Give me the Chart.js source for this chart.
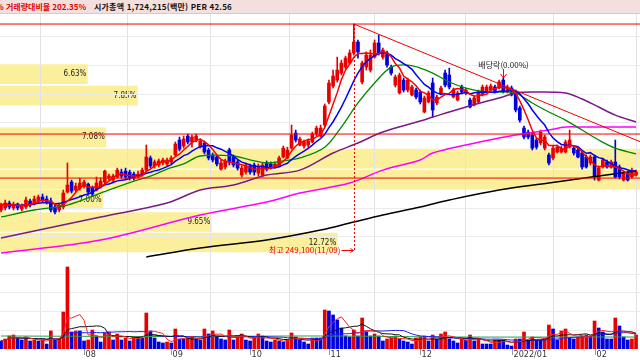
<!DOCTYPE html>
<html lang="ko">
<head>
<meta charset="utf-8">
<title>일봉 차트</title>
<script src="https://cdn.jsdelivr.net/npm/chart.js@4.4.1/dist/chart.umd.min.js"></script>
<style>
    body { margin: 0; background: #fff; }
    #wrap { position: relative; width: 640px; height: 360px; overflow: hidden; font-family: "Noto Sans CJK KR", sans-serif; }
    #hdr { position: absolute; left: 0; top: 0; width: 640px; height: 13px; background: #f4dfdf; border-bottom: 1px solid #dcc8c8; font-size: 8px; font-weight: bold; line-height: 13px; white-space: nowrap; }
    #hdr span { position: absolute; top: 0; }
    canvas { position: absolute; left: 0; }
</style>
</head>
<body>
<div id="wrap">
    <div id="hdr"><span style="left:-4px;color:#e00000">% 거래량대비율 202.35%</span><span style="left:94px;color:#111;letter-spacing:0.2px">시가총액 1,724,215(백만) PER 42.56</span></div>
    <canvas id="prof" width="640" height="246" style="top:14px"></canvas>
    <canvas id="price" width="640" height="246" style="top:14px"></canvas>
    <canvas id="vol" width="640" height="100" style="top:260px"></canvas>
</div>
<script>
// 일봉 (원)
var openP = [118600,120000,123500,120000,122800,119300,120700,124900,122800,124900,
    127700,126300,124900,120700,118600,120700,131200,138200,132600,133900,
    135400,136800,133900,132600,135400,138200,141000,139600,141700,145200,
    145900,145200,143800,141700,143100,146600,155100,149500,150200,151600,
    150900,152300,157200,167700,163500,170500,166300,167700,162700,165600,
    160700,157200,155800,147300,148800,160700,155800,152300,143100,145200,
    149500,150200,144500,143100,151600,150900,148800,149500,155800,155100,
    162000,172600,164200,163500,164200,166300,171900,170500,178200,194400,
    205600,209800,214700,218900,221700,228800,236500,208400,218900,216800,
    225900,235800,225900,228800,218900,206300,200700,209800,202800,199300,
    202800,201400,187400,194400,207700,193700,200700,214700,213300,197900,
    195800,204900,200700,195800,192300,194400,199300,201400,202800,204900,
    204200,209800,201400,204200,201400,190200,176100,173300,171200,167700,
    165600,162000,157200,155100,159300,159300,159300,162700,162000,160700,
    158600,155800,151600,155800,139600,148800,152300,148800,152300,148800,
    139600,144500,141700,143100];
var highP = [123500,125600,124900,124200,123500,122800,127700,126300,128400,129100,
    129800,128400,127000,122800,123500,132600,151600,139600,137500,141000,
    139600,137500,135400,141700,141000,146600,143800,143800,148000,147300,
    148000,146600,145200,145900,148000,164200,156500,153700,154400,155100,
    155100,156500,166300,169800,170500,171900,171200,171900,168400,167000,
    162000,158600,157200,153700,154400,162000,157200,153700,149500,151600,
    150900,151600,150900,151600,153000,152300,152300,156500,163500,162700,
    178200,174700,169800,167700,168400,173300,177500,178200,193000,209800,
    216800,225900,223800,226600,230900,249100,237900,223100,229500,230900,
    237900,241400,232300,230200,220300,213300,214700,211200,211200,206300,
    204200,202800,198600,202100,211200,199300,205600,216800,218200,204200,
    202100,206300,204200,197200,198600,202800,206300,206300,207000,206300,
    209800,211200,206300,205600,202800,191600,177500,174700,172600,169100,
    174700,171200,158600,163500,164200,163500,167700,174700,163500,162000,
    160000,157200,157200,157200,149500,155100,153700,153700,167700,150200,
    145900,145900,148000,146600];
var lowP = [117200,118600,119300,118600,118600,117900,119300,120700,122100,123500,
    124200,122800,117200,115800,117200,119300,130500,130500,131200,132600,
    133900,129800,128400,131900,133900,136800,139600,138200,141000,141000,
    140300,139600,139600,141000,142400,145900,148000,148000,148800,150200,
    149500,150900,156500,160000,162000,164900,162700,166300,162000,157900,
    153700,152300,149500,146600,147300,150200,148800,146600,141700,143800,
    143800,143100,142400,141700,145900,147300,148000,148800,155100,154400,
    161300,166300,163500,162000,162700,165600,170500,169800,176800,193000,
    204200,208400,213300,217500,221000,227300,225200,207000,216800,215400,
    225200,227300,224500,218900,213300,204900,200000,201400,201400,198600,
    196500,193000,186700,193700,183800,192300,199300,204900,203500,197200,
    195100,200000,199300,190200,191600,193700,198600,200700,202100,200700,
    203500,200700,200700,198600,187400,180300,168400,168400,160700,161300,
    164200,160700,150200,153700,158600,158600,158600,162000,157200,155100,
    147300,148000,150200,139600,138900,148000,148000,148000,141000,140300,
    138900,138900,141000,142400];
var closeP = [122100,123500,120700,122800,120000,122100,125600,122100,126300,127700,
    125600,124200,118600,117200,121400,130500,136100,131900,135400,137500,
    138200,131200,129800,137500,138900,145900,142400,142400,146600,142400,
    141700,141000,141000,143800,146600,155800,149500,152300,153000,153700,
    153700,155100,164900,161300,168400,166300,169800,170500,167000,159300,
    155100,153700,150900,151600,153000,152300,150200,148000,148000,149500,
    145200,145200,148800,150200,147300,148800,150900,155100,162000,160700,
    171200,167700,168400,166300,167000,171900,176100,176100,191600,207700,
    212600,216800,221700,225200,228800,236500,229500,221700,227300,227300,
    235800,228800,230900,220300,214700,211900,213300,202800,209800,204900,
    197900,194400,197200,200700,188800,197900,204200,206300,204900,202800,
    200700,201400,202800,190900,197200,201400,204900,204900,205600,201400,
    208400,201400,204900,199300,188800,181700,169800,169800,162000,162700,
    173300,169800,151600,162000,162700,162000,166300,167700,158600,155800,
    148800,148800,155800,141700,148000,153700,148800,152300,141700,141700,
    144500,139600,146600,145200];
// 거래량 (주)
var volume = [64000,80000,104000,112000,88000,72000,96000,64000,72000,64000,
    72000,40000,144000,72000,80000,296000,656000,136000,144000,144000,
    64000,72000,152000,104000,56000,128000,136000,72000,120000,72000,
    88000,64000,96000,96000,88000,288000,144000,88000,56000,48000,
    56000,48000,160000,80000,80000,88000,96000,80000,72000,160000,
    120000,144000,96000,80000,72000,152000,72000,104000,120000,72000,
    64000,88000,120000,104000,64000,56000,72000,64000,56000,72000,
    128000,96000,72000,56000,40000,88000,88000,88000,312000,304000,
    272000,232000,168000,104000,96000,152000,104000,248000,136000,104000,
    120000,104000,64000,80000,88000,104000,80000,64000,56000,40000,
    88000,96000,104000,64000,112000,80000,120000,136000,80000,64000,
    48000,80000,72000,112000,64000,80000,40000,40000,40000,72000,
    72000,72000,32000,24000,80000,80000,136000,72000,96000,72000,
    72000,88000,192000,160000,72000,144000,160000,88000,80000,96000,
    104000,112000,104000,224000,168000,136000,80000,80000,248000,184000,
    96000,72000,80000,112000];

// 장기 이동평균 (봉 번호, 가격) - 차트에서 읽은 값
var ma20Pts = [[0,113700],[8,118600],[16,122100],[24,130500],[32,138900],[36,142400],[40,147300],[44,150900],[48,156500],[56,156500],[60,153700],[64,151600],[68,153000],[72,155100],[78,162700],[82,176800],[86,193700],[90,207700],[94,218900],[98,220300],[101,218200],[104,214700],[108,208400],[112,204200],[117,201400],[122,201400],[124,200700],[128,193700],[132,187400],[136,181700],[140,174700],[144,167700],[148,162000],[153,157900]];
var ma60Pts = [[0,98900],[24,113700],[40,123500],[48,132600],[56,136100],[64,143100],[72,146600],[80,158600],[86,165600],[92,173300],[101,181000],[104,183800],[112,190900],[120,197200],[124,200700],[128,201400],[136,200700],[140,196500],[144,190900],[148,185200],[153,180300]];
var ma120Pts = [[0,88400],[24,97500],[48,115100],[64,124200],[72,130500],[84,137500],[92,146600],[101,153700],[104,158600],[112,164200],[120,169100],[124,171200],[132,174700],[136,176800],[140,176800],[153,176800]];
var ma240Pts = [[35,85600],[48,91900],[64,97500],[77,104500],[85,110200],[92,115100],[101,120700],[108,125600],[120,132600],[132,137500],[144,142400],[153,145900]];
var volMa60Pts = [[0,104000],[40,100000],[77,104000],[110,96000],[153,96000]];

// 지지/저항선, 추세선
var hLines = [249100, 171900, 141000];
var trendLine = [[85, 249100], [154, 166500]];

// 매물대
var profilePrice = [214000, 198900, 169600, 154700, 139900, 125900, 110200, 95800];
var profilePct = [6.63, 7.85, 7.08, 23.72, 25.35, 7.00, 9.65, 12.72];

// 월 구분
var monthTicks = [20, 41, 60, 79, 101, 123, 143];
var monthLabels = ['08', '09', '10', '11', '12', '2022/01', '02'];
var priceGrid = [100000, 120000, 140000, 160000, 180000, 200000, 220000, 240000];
var volGrid = [150000, 300000, 450000, 600000];

var peakIdx = 85, peakDate = '11/09';
var exDivIdx = 121;

var X_MIN = -0.25, X_MAX = 153.95;
var Y_MIN = 83510, Y_MAX = 256140;
var UP = '#e60000', DOWN = '#0000e0';

// 봉 색: 양봉 빨강, 음봉 파랑 / 거래량 색: 전일 대비 증가 빨강, 감소 파랑
var candleColor = closeP.map(function(c, i) { return c >= openP[i] ? UP : DOWN; });
var volColor = volume.map(function(v, i) { return i > 0 && v > volume[i - 1] ? UP : DOWN; });

function movingAvg(arr, n) {
    return arr.map(function(v, i) {
        var s = arr.slice(Math.max(0, i - n + 1), i + 1);
        return { x: i, y: s.reduce(function(a, b) { return a + b; }, 0) / s.length };
    });
}
function pts(a) { return a.map(function(p) { return { x: p[0], y: p[1] }; }); }
function lineSet(data, color, width, order, tension) {
    return { type: 'line', data: data, borderColor: color, borderWidth: width, pointRadius: 0, order: order, tension: tension || 0 };
}

Chart.defaults.animation = false;
Chart.defaults.font.family = '"Noto Sans CJK KR", sans-serif';

var xAxis = {
    type: 'linear', min: X_MIN, max: X_MAX, offset: false,
    grid: { color: '#e2e2e2', drawTicks: false },
    border: { display: false },
    ticks: { display: false },
    afterBuildTicks: function(s) { s.ticks = monthTicks.map(function(v) { return { value: v }; }); }
};

// start: 매물대
var profileLabels = {
    id: 'profileLabels',
    afterDatasetsDraw: function(chart) {
        var ctx = chart.ctx;
        ctx.save();
        ctx.font = '8px "DejaVu Sans Condensed", "DejaVu Sans", sans-serif';
        ctx.fillStyle = '#222';
        ctx.textAlign = 'right';
        ctx.textBaseline = 'middle';
        chart.getDatasetMeta(0).data.forEach(function(bar, k) {
            if (bar.x < chart.width - 2) ctx.fillText(profilePct[k].toFixed(2) + '%', bar.x - 1, bar.y);
        });
        ctx.restore();
    }
};

new Chart(document.getElementById('prof'), {
    type: 'bar',
    data: {
        datasets: [{
            data: profilePrice.map(function(p, k) { return { x: profilePct[k], y: p }; }),
            backgroundColor: '#fbef9c',
            barThickness: 19
        }]
    },
    options: {
        responsive: false,
        indexAxis: 'y',
        events: [],
        layout: { padding: 0 },
        plugins: { legend: { display: false }, tooltip: { enabled: false } },
        scales: {
            x: { type: 'linear', min: 4.5, max: 20.1, display: false },
            y: { type: 'linear', min: Y_MIN, max: Y_MAX, offset: false, display: false }
        }
    },
    plugins: [profileLabels]
});
// end: 매물대

// start: 가격 차트
var priceNotes = {
    id: 'priceNotes',
    afterDatasetsDraw: function(chart) {
        var ctx = chart.ctx, x = chart.scales.x, y = chart.scales.y;
        ctx.save();
        ctx.strokeStyle = '#f00000';
        ctx.lineWidth = 1;

        // 최고가
        var hx = Math.round(x.getPixelForValue(peakIdx)) + 0.5;
        var hy = y.getPixelForValue(highP[peakIdx]);
        ctx.setLineDash([2, 2]);
        ctx.beginPath(); ctx.moveTo(hx, hy); ctx.lineTo(hx, 238); ctx.stroke();
        ctx.setLineDash([]);
        ctx.beginPath();
        ctx.moveTo(hx - 13, 236.5); ctx.lineTo(hx - 1, 236.5);
        ctx.moveTo(hx - 4, 234.5); ctx.lineTo(hx - 1, 236.5); ctx.lineTo(hx - 4, 238.5);
        ctx.stroke();
        ctx.font = '8px "Noto Sans CJK KR"';
        ctx.fillStyle = '#f00000';
        ctx.textAlign = 'right';
        ctx.textBaseline = 'middle';
        ctx.fillText('최고 ' + highP[peakIdx].toLocaleString('en-US') + '(' + peakDate + ')', hx - 14, 236);

        // 배당락
        var dx = Math.round(x.getPixelForValue(exDivIdx)) + 0.5;
        ctx.fillStyle = '#222';
        ctx.textAlign = 'center';
        ctx.fillText('배당락(0.00%)', dx, 51);
        ctx.beginPath();
        ctx.moveTo(dx, 55); ctx.lineTo(dx, 64);
        ctx.moveTo(dx - 3, 60); ctx.lineTo(dx, 64); ctx.lineTo(dx + 3, 60);
        ctx.stroke();
        ctx.restore();
    }
};

var priceSets = hLines.map(function(v) {
    return lineSet([{ x: X_MIN, y: v }, { x: X_MAX, y: v }], '#f00000', 1, 1);
});
priceSets.push(lineSet(pts(trendLine), '#f00000', 1, 1));
priceSets.push(lineSet(movingAvg(closeP, 5), '#ff0000', 1.5, 2));
priceSets.push(lineSet(movingAvg(closeP, 10), '#0000ff', 1.5, 2));
priceSets.push(lineSet(pts(ma20Pts), '#008a00', 1.3, 2, 0.35));
priceSets.push(lineSet(pts(ma60Pts), '#7a1a8a', 1.5, 3, 0.35));
priceSets.push(lineSet(pts(ma120Pts), '#ff00ff', 1.5, 3, 0.35));
priceSets.push(lineSet(pts(ma240Pts), '#000000', 1.5, 3, 0.35));
priceSets.push({
    type: 'bar',
    data: openP.map(function(o, i) { return { x: i, y: [lowP[i], highP[i]] }; }),
    backgroundColor: candleColor, barThickness: 1, grouped: false, order: 5
});
priceSets.push({
    type: 'bar',
    data: openP.map(function(o, i) { return { x: i, y: [o, closeP[i]] }; }),
    backgroundColor: candleColor, barThickness: 3, minBarLength: 1, grouped: false, order: 4
});

new Chart(document.getElementById('price'), {
    type: 'bar',
    data: { datasets: priceSets },
    options: {
        responsive: false,
        events: [],
        layout: { padding: 0 },
        plugins: { legend: { display: false }, tooltip: { enabled: false } },
        scales: {
            x: xAxis,
            y: {
                type: 'linear', min: Y_MIN, max: Y_MAX,
                grid: { color: '#ebebeb', drawTicks: false },
                border: { display: false },
                ticks: { display: false },
                afterBuildTicks: function(s) { s.ticks = priceGrid.map(function(v) { return { value: v }; }); }
            }
        }
    },
    plugins: [priceNotes]
});
// end: 가격 차트

// start: 거래량
var monthAxis = {
    id: 'monthAxis',
    afterDraw: function(chart) {
        var ctx = chart.ctx, area = chart.chartArea, x = chart.scales.x;
        ctx.save();
        ctx.font = '9px "DejaVu Sans Condensed", "DejaVu Sans", sans-serif';
        ctx.fillStyle = '#333';
        ctx.strokeStyle = '#999';
        ctx.textBaseline = 'middle';
        monthTicks.forEach(function(v, k) {
            var px = Math.round(x.getPixelForValue(v)) + 0.5;
            ctx.beginPath(); ctx.moveTo(px, area.bottom); ctx.lineTo(px, area.bottom + 6); ctx.stroke();
            ctx.fillText(monthLabels[k], px + 1, area.bottom + 6);
        });
        ctx.restore();
    }
};

new Chart(document.getElementById('vol'), {
    type: 'bar',
    data: {
        datasets: [
            lineSet(movingAvg(volume, 5), '#ff2020', 1, 1),
            lineSet(movingAvg(volume, 10), '#111111', 1, 1),
            lineSet(movingAvg(volume, 20), '#2020ff', 1, 1),
            lineSet(pts(volMa60Pts), '#2e9e4a', 1, 1, 0.35),
            {
                type: 'bar',
                data: volume.map(function(v, i) { return { x: i, y: v }; }),
                backgroundColor: volColor, barThickness: 3, grouped: false, order: 5
            }
        ]
    },
    options: {
        responsive: false,
        events: [],
        layout: { padding: { bottom: 11 } },
        plugins: { legend: { display: false }, tooltip: { enabled: false } },
        scales: {
            x: xAxis,
            y: {
                type: 'linear', min: 0, max: 712000,
                grid: { color: '#ebebeb', drawTicks: false },
                border: { display: false },
                ticks: { display: false },
                afterBuildTicks: function(s) { s.ticks = volGrid.map(function(v) { return { value: v }; }); }
            }
        }
    },
    plugins: [monthAxis]
});
// end: 거래량
</script>
</body>
</html>
